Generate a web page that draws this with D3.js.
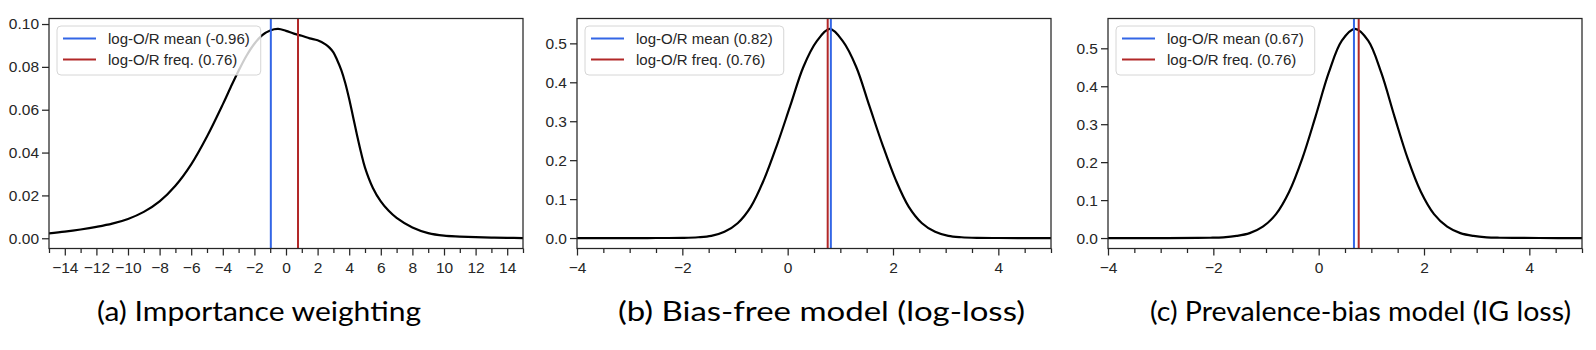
<!DOCTYPE html>
<html>
<head>
<meta charset="utf-8">
<script src="https://cdn.jsdelivr.net/npm/d3@7"></script>
<style>
  body { margin: 0; background: #fff; }
  svg { display: block; }
</style>
</head>
<body>
<svg id="viz"></svg>
<script>
var width = 1596;
var height = 350;

// titles + reference lines
var titles = ["(a) Importance weighting", "(b) Bias-free model (log-loss)", "(c) Prevalence-bias model (IG loss)"];
var meanVals = [-0.96, 0.82, 0.67];
var freqVals = [0.76, 0.76, 0.76];

// density curves
var xA = [-15,-14,-13,-12,-11,-10,-9,-8,-7,-6,-5,-4,-3.5,-3,-2.5,-2,-1.5,-1,-0.5,0,0.5,1,1.5,2,2.5,2.75,3,3.25,3.5,3.75,4,4.25,4.5,4.75,5,5.5,6,6.5,7,8,9,10,11,12,13,14,15];
var yA = [0.0023,0.0031,0.0041,0.0053,0.0068,0.0090,0.0123,0.0172,0.0245,0.0345,0.0475,0.0625,0.0705,0.0782,0.0852,0.0908,0.0948,0.0970,0.0977,0.0968,0.0955,0.0945,0.0933,0.0924,0.0905,0.0890,0.0868,0.0830,0.0785,0.0725,0.0650,0.0565,0.0480,0.0400,0.0330,0.0235,0.0172,0.0128,0.0095,0.0050,0.0024,0.0012,0.0008,0.0005,0.0003,0.0002,0.0001];

var xB = [-4,-3,-2.5,-2,-1.7,-1.45,-1.2,-0.95,-0.7,-0.45,-0.2,0.05,0.3,0.55,0.8,1.05,1.3,1.55,1.8,2.05,2.3,2.55,2.8,3.05,3.3,3.6,4,5];
var yB = [0,0,0.0001,0.0006,0.002,0.0055,0.016,0.038,0.08,0.15,0.24,0.34,0.44,0.505,0.537,0.505,0.44,0.34,0.24,0.15,0.08,0.038,0.016,0.0055,0.002,0.0005,0.0001,0];

var xC = [-4,-3,-2.3,-2.06,-1.81,-1.56,-1.31,-1.06,-0.81,-0.56,-0.31,-0.06,0.19,0.44,0.69,0.94,1.19,1.44,1.69,1.94,2.19,2.44,2.69,2.94,3.19,3.44,3.69,4.19,5];
var yC = [0,0,0.0003,0.0008,0.002,0.0055,0.013,0.03,0.063,0.122,0.21,0.32,0.435,0.52,0.551,0.52,0.435,0.32,0.21,0.122,0.063,0.03,0.013,0.0055,0.002,0.0008,0.0003,0.0001,0];

// axes ticks
var xDomains = [[-15, 15], [-4, 5], [-4, 5]];
var xMajor = [d3.range(-14, 15, 2), [-4, -2, 0, 2, 4], [-4, -2, 0, 2, 4]];
var xMinor = [d3.range(-15, 16, 1), d3.range(-4, 5.01, 0.5), d3.range(-4, 5.01, 0.5)];
var yTicks = [[0, 0.02, 0.04, 0.06, 0.08, 0.10], [0, 0.1, 0.2, 0.3, 0.4, 0.5], [0, 0.1, 0.2, 0.3, 0.4, 0.5]];
var yFormats = [".2f", ".1f", ".1f"];

var seriesX = [xA, xB, xC];
var seriesY = [yA, yB, yC];

var panelLeft = [49, 577, 1108];
var panelW = 474;
var panelTop = 18.5;
var panelH = 230;
var titleX = [97, 618, 1150];
var titleLen = [324, 407, 421];

var blue = "#3366e6";
var red = "#b22828";
var ink = "#262626";

var svg = d3.select("#viz").attr("width", width).attr("height", height);
svg.append("rect").attr("width", width).attr("height", height).attr("fill", "#fff");

titles.forEach(function(title, i) {

  var x = d3.scaleLinear().domain(xDomains[i]).range([0, panelW]);
  var ext = d3.extent(seriesY[i]);
  var pad = (ext[1] - ext[0]) * 0.05;
  var y = d3.scaleLinear().domain([ext[0] - pad, ext[1] + pad]).range([panelH, 0]);

  var g = svg.append("g").attr("transform", "translate(" + panelLeft[i] + "," + panelTop + ")");

  g.append("defs").append("clipPath").attr("id", "clip" + i)
    .append("rect").attr("width", panelW).attr("height", panelH);

  var plot = g.append("g").attr("clip-path", "url(#clip" + i + ")");

  // curve
  var pts = seriesX[i].map(function(v, j) { return [v, seriesY[i][j]]; });
  plot.append("path")
    .datum(pts)
    .attr("fill", "none")
    .attr("stroke", "#000")
    .attr("stroke-width", 2.2)
    .attr("stroke-linejoin", "round")
    .attr("d", d3.line()
      .x(function(d) { return x(d[0]); })
      .y(function(d) { return y(d[1]); })
      .curve(d3.curveCatmullRom.alpha(0.5)));

  // vertical lines
  var vlines = [{v: meanVals[i], c: blue}, {v: freqVals[i], c: red}];
  if (meanVals[i] > freqVals[i]) vlines.reverse();
  plot.selectAll(".vl").data(vlines).enter().append("line")
    .attr("x1", function(d) { return x(d.v); })
    .attr("x2", function(d) { return x(d.v); })
    .attr("y1", 0).attr("y2", panelH)
    .attr("stroke", function(d) { return d.c; })
    .attr("stroke-width", 2);

  // x axis
  var xAxis = g.append("g").attr("transform", "translate(0," + panelH + ")");
  xAxis.call(d3.axisBottom(x).tickValues(xMinor[i].filter(function(v) { return xMajor[i].indexOf(v) < 0; }))
    .tickSize(4.5).tickFormat(""));
  xAxis.append("g").call(d3.axisBottom(x).tickValues(xMajor[i]).tickSize(7).tickPadding(6)
    .tickFormat(d3.format("d")));

  // y axis
  var yAxis = g.append("g");
  yAxis.call(d3.axisLeft(y).tickValues(yTicks[i]).tickSize(7).tickPadding(3)
    .tickFormat(d3.format(yFormats[i])));

  g.selectAll(".domain").remove();
  g.selectAll(".tick line").attr("stroke", ink).attr("stroke-width", 1.25);
  g.selectAll(".tick text")
    .attr("fill", ink)
    .style("font-family", "'Liberation Sans', Arial, sans-serif")
    .style("font-size", "15.5px");

  // spines
  g.append("rect")
    .attr("width", panelW).attr("height", panelH)
    .attr("fill", "none")
    .attr("stroke", ink)
    .attr("stroke-width", 1.25);

  // legend
  var leg = g.append("g").attr("transform", "translate(8,7.5)");
  var box = leg.append("rect")
    .attr("rx", 4).attr("ry", 4)
    .attr("height", 49)
    .attr("fill", "#fff").attr("fill-opacity", 0.8)
    .attr("stroke", "#d6d6d6").attr("stroke-width", 1);

  var labels = ["log-O/R mean (" + meanVals[i].toFixed(2) + ")",
                "log-O/R freq. (" + freqVals[i].toFixed(2) + ")"];
  var cols = [blue, red];
  var maxW = 0;
  labels.forEach(function(t, k) {
    var ry = 12.5 + k * 21;
    leg.append("line")
      .attr("x1", 6).attr("x2", 39)
      .attr("y1", ry).attr("y2", ry)
      .attr("stroke", cols[k]).attr("stroke-width", 2);
    var txt = leg.append("text")
      .attr("x", 51).attr("y", ry + 5.5)
      .attr("fill", ink)
      .style("font-family", "'Liberation Sans', Arial, sans-serif")
      .style("font-size", "15px")
      .text(t);
    maxW = Math.max(maxW, txt.node().getComputedTextLength());
  });
  box.attr("width", 51 + maxW + 11);

  // panel caption
  svg.append("text")
    .attr("x", titleX[i]).attr("y", 321)
    .attr("textLength", titleLen[i])
    .attr("lengthAdjust", "spacingAndGlyphs")
    .attr("fill", "#000")
    .style("font-family", "Lato, 'Open Sans', sans-serif")
    .style("font-size", "26px")
    .text(title);
});
</script>
</body>
</html>
